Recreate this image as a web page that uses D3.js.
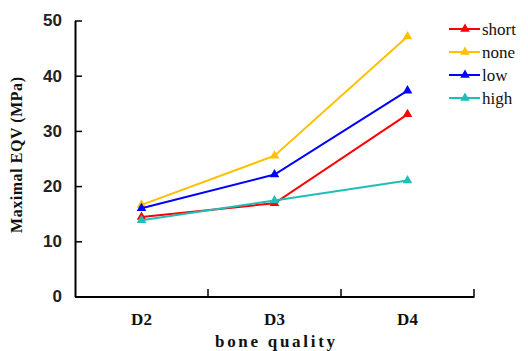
<!DOCTYPE html>
<html>
<head>
<meta charset="utf-8">
<script src="https://cdnjs.cloudflare.com/ajax/libs/d3/7.8.5/d3.min.js"></script>
<style>
  body { margin: 0; background: #fff; }
</style>
</head>
<body>
<div id="chart"></div>
<script>
// Data
const categories = ['D2', 'D3', 'D4'];
const seriesNames = ['short', 'none', 'low', 'high'];
const shortVals = [14.4, 16.9, 33.0];
const noneVals = [16.6, 25.5, 47.1];
const lowVals = [16.0, 22.1, 37.3];
const highVals = [13.8, 17.4, 21.0];
const yTicks = [0, 10, 20, 30, 40, 50];

const colorMap = {
    short: '#ff0000',
    none: '#ffc000',
    low: '#0000ff',
    high: '#1fbfb8'
};

const series = [
    { name: 'short', values: shortVals },
    { name: 'none', values: noneVals },
    { name: 'low', values: lowVals },
    { name: 'high', values: highVals }
];

const W = 528, H = 351;
const svg = d3.select('#chart').append('svg')
    .attr('width', W)
    .attr('height', H);

// Scales
const x = d3.scaleBand().domain(categories).range([75, 474]);
const y = d3.scaleLinear().domain([0, 50]).range([296.5, 20.5]);

const serifFont = '"Liberation Serif", "DejaVu Serif", serif';

// Axes (ticks pointing inward)
const yAxis = svg.append('g')
    .attr('transform', 'translate(75,0)')
    .call(d3.axisLeft(y).tickValues(yTicks).tickSizeInner(-7).tickSizeOuter(0).tickPadding(13));
yAxis.select('.domain').attr('stroke', '#000').attr('stroke-width', 2);
yAxis.selectAll('.tick line').attr('stroke', '#000').attr('stroke-width', 1.5);
yAxis.selectAll('.tick text')
    .attr('font-family', '"Liberation Sans", Arial, sans-serif')
    .attr('font-weight', 'bold')
    .attr('font-size', 17)
    .attr('fill', '#222');

const xAxis = svg.append('g')
    .attr('transform', 'translate(0,296.5)')
    .call(d3.axisBottom(x).tickSize(0).tickPadding(16));
xAxis.select('.domain').attr('stroke', '#000').attr('stroke-width', 2);
xAxis.selectAll('.tick text')
    .attr('font-family', serifFont)
    .attr('font-weight', 'bold')
    .attr('font-size', 17)
    .attr('fill', '#111');

// Category boundary ticks pointing upward
const bounds = categories.map(c => x(c) + x.bandwidth());
svg.append('g').selectAll('line')
    .data(bounds)
    .enter().append('line')
    .attr('x1', d => d).attr('x2', d => d)
    .attr('y1', 296.5).attr('y2', 289)
    .attr('stroke', '#000')
    .attr('stroke-width', 1.5);

// Axis titles
svg.append('text')
    .attr('transform', 'translate(22,155) rotate(-90)')
    .attr('text-anchor', 'middle')
    .attr('font-family', serifFont)
    .attr('font-weight', 'bold')
    .attr('font-size', 16)
    .attr('textLength', 156)
    .attr('lengthAdjust', 'spacing')
    .attr('fill', '#111')
    .text('Maximal EQV (MPa)');

svg.append('text')
    .attr('x', 275)
    .attr('y', 347)
    .attr('text-anchor', 'middle')
    .attr('font-family', serifFont)
    .attr('font-weight', 'bold')
    .attr('font-size', 17)
    .attr('textLength', 120)
    .attr('lengthAdjust', 'spacing')
    .attr('fill', '#111')
    .text('bone quality');

// Lines and markers
const cx = c => x(c) + x.bandwidth() / 2;
const line = d3.line()
    .x((d, i) => cx(categories[i]))
    .y(d => y(d));
const tri = d3.symbol().type(d3.symbolTriangle).size(40);

const sg = svg.append('g').selectAll('g')
    .data(series)
    .enter().append('g');

sg.append('path')
    .attr('d', d => line(d.values))
    .attr('fill', 'none')
    .attr('stroke', d => colorMap[d.name])
    .attr('stroke-width', 2);

sg.selectAll('path.mark')
    .data(d => d.values.map((v, i) => ({ v, i, name: d.name })))
    .enter().append('path')
    .attr('class', 'mark')
    .attr('d', tri)
    .attr('transform', d => `translate(${cx(categories[d.i])},${y(d.v)})`)
    .attr('fill', d => colorMap[d.name]);

// Legend
const legendY = d3.scalePoint().domain(seriesNames).range([29, 98]);
const lg = svg.append('g').selectAll('g')
    .data(seriesNames)
    .enter().append('g')
    .attr('transform', d => `translate(449,${legendY(d)})`);

lg.append('line')
    .attr('x1', 0).attr('x2', 31)
    .attr('stroke', d => colorMap[d])
    .attr('stroke-width', 2);
lg.append('path')
    .attr('d', tri)
    .attr('transform', 'translate(16,0)')
    .attr('fill', d => colorMap[d]);
lg.append('text')
    .attr('x', 33)
    .attr('dy', '0.35em')
    .attr('font-family', serifFont)
    .attr('font-size', 17)
    .attr('fill', '#111')
    .text(d => d);
</script>
</body>
</html>
